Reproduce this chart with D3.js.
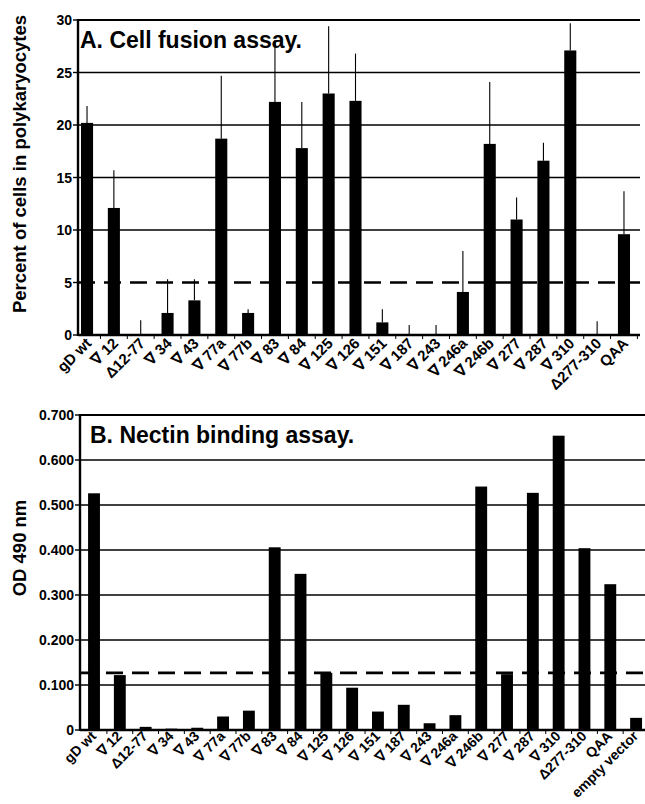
<!DOCTYPE html>
<html><head><meta charset="utf-8">
<script src="https://cdn.jsdelivr.net/npm/d3@7"></script>
<style>body{margin:0;background:#fff}svg{display:block}text{font-family:Arial,"Liberation Sans",sans-serif;font-weight:bold;fill:#000}</style>
</head><body><svg id="c" width="645" height="804"></svg>
<script>
const fusionCats = ["gD wt","∇ 12","Δ12-77","∇ 34","∇ 43","∇ 77a","∇ 77b","∇ 83","∇ 84","∇ 125","∇ 126","∇ 151","∇ 187","∇ 243","∇ 246a","∇ 246b","∇ 277","∇ 287","∇ 310","Δ277-310","QAA"];
const fusionValues = [20.2,12.1,0,2.1,3.3,18.7,2.1,22.2,17.8,23.0,22.3,1.2,0,0,4.1,18.2,11.0,16.6,27.1,0,9.6];
const fusionErrTop = [21.8,15.7,1.4,5.3,5.3,24.7,2.45,28.1,22.2,29.4,26.8,2.45,0.95,0.95,8.0,24.1,13.1,18.3,29.7,1.3,13.7];
const fusionTicks = [0,5,10,15,20,25,30];
const fusionCutoff = 5;

const nectinCats = ["gD wt","∇ 12","Δ12-77","∇ 34","∇ 43","∇ 77a","∇ 77b","∇ 83","∇ 84","∇ 125","∇ 126","∇ 151","∇ 187","∇ 243","∇ 246a","∇ 246b","∇ 277","∇ 287","∇ 310","Δ277-310","QAA","empty vector"];
const nectinValues = [0.526,0.122,0.007,0.003,0.005,0.030,0.043,0.406,0.347,0.127,0.094,0.041,0.056,0.015,0.033,0.541,0.124,0.527,0.654,0.404,0.324,0.027];
const nectinTicks = [0,0.1,0.2,0.3,0.4,0.5,0.6,0.7];
const nectinTickLabels = ["0","0.100","0.200","0.300","0.400","0.500","0.600","0.700"];
const nectinCutoff = 0.127;

const svg = d3.select("#c");

function panel(o){
  const g = svg.append("g");
  const x = d3.scaleBand().domain(o.cats).range(o.xr).paddingInner(o.pad).paddingOuter(o.pad/2);
  const y = d3.scaleLinear().domain(o.ydom).range(o.yr);
  const step = x.step();
  g.selectAll(".grid").data(o.ticks.filter(t=>t>0 && t<o.ydom[1] && t!==o.skip)).enter().append("line")
    .attr("x1",o.axisX).attr("x2",o.right).attr("y1",d=>y(d)).attr("y2",d=>y(d))
    .attr("stroke","#000").attr("stroke-width",1.4);
  g.append("line").attr("x1",o.axisX).attr("x2",o.right).attr("y1",y(o.ydom[1])).attr("y2",y(o.ydom[1])).attr("stroke","#000").attr("stroke-width",2.2);
  g.append("line").attr("x1",o.axisX).attr("x2",o.right).attr("y1",y(o.cut)).attr("y2",y(o.cut))
    .attr("stroke","#000").attr("stroke-width",2.6).attr("stroke-dasharray","17,9");
  if(o.err){
    g.selectAll(".err").data(o.cats).enter().append("line")
      .attr("x1",d=>x(d)+x.bandwidth()/2).attr("x2",d=>x(d)+x.bandwidth()/2)
      .attr("y1",(d,i)=>y(o.vals[i])).attr("y2",(d,i)=>y(o.err[i]))
      .attr("stroke","#000").attr("stroke-width",1.1);
  }
  g.selectAll(".bar").data(o.cats).enter().append("rect")
    .attr("x",d=>x(d)).attr("width",x.bandwidth())
    .attr("y",(d,i)=>y(o.vals[i])).attr("height",(d,i)=>y(0)-y(o.vals[i]))
    .attr("fill","#000");
  g.append("line").attr("x1",o.axisX).attr("x2",o.axisX).attr("y1",y(o.ydom[1])-1).attr("y2",y(0)+1).attr("stroke","#000").attr("stroke-width",2.4);
  g.append("line").attr("x1",o.axisX).attr("x2",o.right).attr("y1",y(0)).attr("y2",y(0)).attr("stroke","#000").attr("stroke-width",2.4);
  g.selectAll(".xt").data(o.cats).enter().append("line")
    .attr("x1",d=>x(d)+x.bandwidth()/2+step/2).attr("x2",d=>x(d)+x.bandwidth()/2+step/2)
    .attr("y1",y(0)).attr("y2",y(0)+4).attr("stroke","#000").attr("stroke-width",1);
  g.selectAll(".yt").data(o.ticks).enter().append("line")
    .attr("x1",o.axisX-5).attr("x2",o.axisX).attr("y1",d=>y(d)).attr("y2",d=>y(d)).attr("stroke","#000").attr("stroke-width",1.4);
  g.selectAll(".yl").data(o.ticks).enter().append("text")
    .attr("x",o.axisX-6).attr("y",d=>y(d)).attr("dy","0.36em").attr("text-anchor","end")
    .attr("font-size",o.tickFs).text((d,i)=>o.tickLabels[i]);
  g.selectAll(".xl").data(o.cats).enter().append("text")
    .attr("transform",d=>`translate(${x(d)+x.bandwidth()/2+o.lx},${y(0)+o.ly}) rotate(-45)`)
    .attr("text-anchor","end").attr("dy","0.4em").attr("font-size",o.labFs).text(d=>d);
  g.append("text").attr("x",o.titleX).attr("y",o.titleY).attr("font-size",o.titleFs).text(o.title);
  g.append("text").attr("transform",`translate(${o.ytX},${o.ytY}) rotate(-90)`).attr("text-anchor","middle")
    .attr("font-size",18.5).text(o.ytitle);
}

panel({cats:fusionCats, vals:fusionValues, err:fusionErrTop, xr:[73.6,637.4], pad:0.55,
  ydom:[0,30], yr:[335,20], ticks:fusionTicks, tickLabels:fusionTicks.map(String), skip:5, cut:fusionCutoff,
  axisX:78, right:640, tickFs:14, lx:1, ly:5, labFs:15,
  title:"A. Cell fusion assay.", titleX:80, titleY:48, titleFs:23,
  ytitle:"Percent of cells in polykaryocytes", ytX:26, ytY:164});

panel({cats:nectinCats, vals:nectinValues, err:null, xr:[81.1,649], pad:0.54,
  ydom:[0,0.7], yr:[730,415], ticks:nectinTicks, tickLabels:nectinTickLabels, skip:-1, cut:nectinCutoff,
  axisX:80, right:645, tickFs:14, lx:-1, ly:3, labFs:14,
  title:"B. Nectin binding assay.", titleX:90, titleY:443, titleFs:23,
  ytitle:"OD 490 nm", ytX:26, ytY:548});
</script></body></html>
